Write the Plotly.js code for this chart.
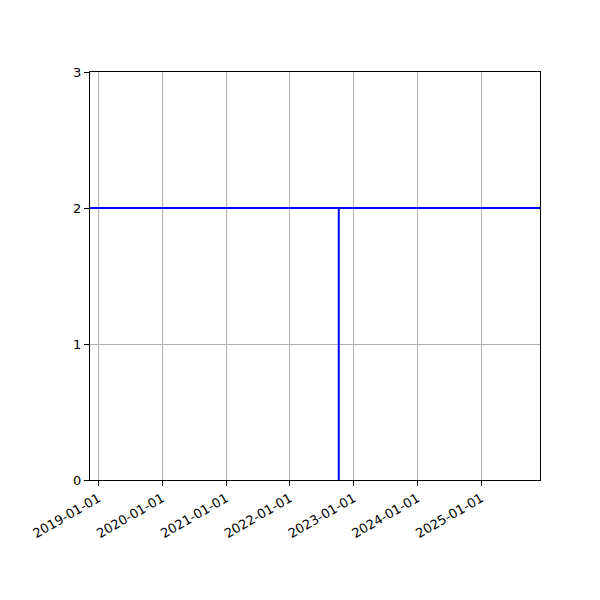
<!DOCTYPE html>
<html>
<head>
<meta charset="utf-8">
<script src="https://cdn.plot.ly/plotly-3.0.1.min.js"></script>
<style>
  html, body { margin: 0; padding: 0; background: #fff; }
  #chart { width: 600px; height: 600px; }
</style>
</head>
<body>
<div id="chart"></div>
<script>
// horizontal level line, spans the whole visible range
const levelX = ['2018-11-14', '2025-12-03'];
const levelY = [2, 2];
// vertical marker line
const markX = ['2022-10-08', '2022-10-08'];
const markY = [0, 2];

const xRange = ['2018-11-14', '2025-12-03'];
const yTicks = [0, 1, 2, 3];

const lineStyle = { color: '#0000ff', width: 2 };

Plotly.newPlot('chart', [
  { type: 'scatter', mode: 'lines', x: levelX, y: levelY, line: lineStyle, hoverinfo: 'skip' },
  { type: 'scatter', mode: 'lines', x: markX, y: markY, line: lineStyle, hoverinfo: 'skip' },
], {
  width: 600,
  height: 600,
  showlegend: false,
  paper_bgcolor: '#fff',
  plot_bgcolor: '#fff',
  font: { family: 'DejaVu Sans', size: 13, color: '#000' },
  margin: { l: 90, r: 60, t: 72, b: 120 },
  xaxis: {
    type: 'date',
    range: xRange,
    tick0: '2019-01-01',
    dtick: 'M12',
    tickformat: '%Y-%m-%d',
    tickangle: -30,
    ticks: 'outside',
    ticklen: 5,
    tickcolor: '#000',
    showgrid: true,
    gridcolor: '#b0b0b0',
    gridwidth: 1,
    showline: true,
    linecolor: '#000',
    linewidth: 1,
    mirror: true,
    zeroline: false,
  },
  yaxis: {
    range: [0, 3],
    tickvals: yTicks,
    ticks: 'outside',
    ticklen: 5,
    tickcolor: '#000',
    showgrid: true,
    gridcolor: '#b0b0b0',
    gridwidth: 1,
    showline: true,
    linecolor: '#000',
    linewidth: 1,
    mirror: true,
    zeroline: false,
  },
}, { displayModeBar: false, staticPlot: true });
</script>
</body>
</html>
